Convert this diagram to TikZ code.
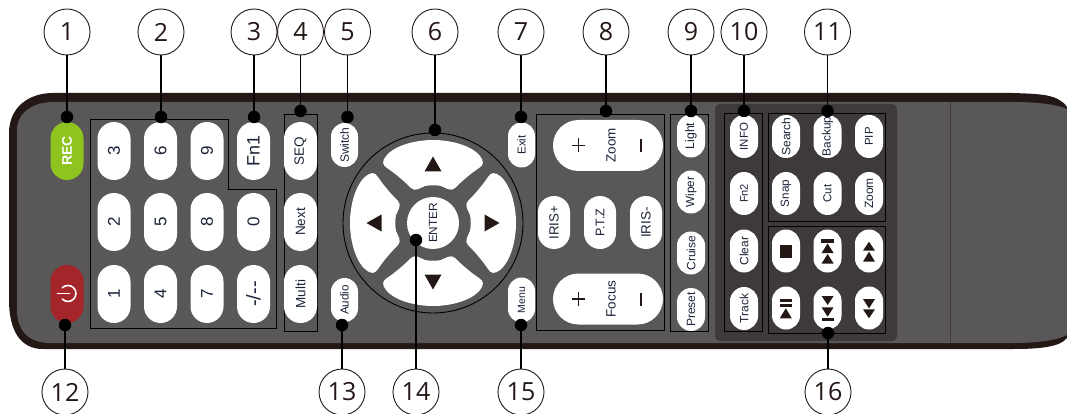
\documentclass[tikz,border=0pt]{standalone}
\usepackage{fontspec}
\setmainfont{Liberation Sans}
\newfontfamily\numfont{Open Sans}
\usetikzlibrary{shapes.misc}
\definecolor{bandc}{HTML}{231815}
\definecolor{bodyc}{HTML}{595757}
\definecolor{darkc}{HTML}{3E3A39}
\definecolor{recc}{HTML}{8FC31F}
\definecolor{powc}{HTML}{A4252A}
\definecolor{inkc}{HTML}{1C2338}
\newcommand{\fs}[1]{\fontsize{#1}{#1}\selectfont}
\tikzset{
  x=1pt,y=-1pt,
  pillbase/.style={rounded rectangle,fill=white,draw=none,inner sep=0pt,text=inkc},
  pill/.style={pillbase,rotate=90},
  keybig/.style={pill,minimum width=58pt,minimum height=33pt},
  keymid/.style={pill,minimum width=43pt,minimum height=28pt},
  keywide/.style={pillbase,minimum width=110pt,minimum height=51pt},
  keyiris/.style={pill,minimum width=53pt,minimum height=32pt},
  frameb/.style={draw=black,line width=0.9pt},
  callout/.style={circle,draw=bandc,line width=0.9pt,fill=white,minimum size=46pt,inner sep=0pt,font=\numfont\fontsize{25}{25}\selectfont,text=bandc},
  dot/.style={circle,fill=black,minimum size=12.5pt,inner sep=0pt},
  lead/.style={draw=black,line width=1.2pt},
  glyph/.style={fill=bandc,draw=none}
}
\begin{document}
\begin{tikzpicture}
\useasboundingbox (0,0) rectangle (1067,414);
% body
\fill[bandc] (53,93) -- (1013,93) .. controls (1040,94) and (1058,94) .. (1067,107) -- (1067,338) .. controls (1060,347) and (1040,349) .. (1013,349) -- (43,349) .. controls (20,349) and (9,330) .. (9,300) -- (9,133) .. controls (9,108) and (28,93) .. (53,93) -- cycle;
\fill[bodyc] (53,102) -- (1013,102) .. controls (1035,102) and (1055,104) .. (1067,109) -- (1067,335) .. controls (1055,341) and (1035,343) .. (1013,343) -- (50,343) .. controls (28,343) and (17,330) .. (17,310) -- (17,130) .. controls (17,113) and (33,102) .. (53,102) -- cycle;
\draw[darkc,line width=0.9pt] (950,102) -- (950,343);
\fill[darkc,rounded corners=5pt] (715,104) rectangle (897,341);
% frames
\draw[frameb] (90,119) -- (228,119) -- (228,189) -- (276,189) -- (276,328) -- (90,328) -- cycle;
\draw[frameb] (284,114) rectangle (317,331);
\draw[frameb] (536,114) rectangle (664,330);
\draw[frameb] (670,114) rectangle (708,331);
\draw[frameb] (724,113) rectangle (762,331);
\draw[frameb] (768,113) rectangle (885,221);
\draw[frameb] (768,226) rectangle (885,333);
% left keys
\node[keybig,fill=recc,text=white,font=\bfseries\fs{14}] (krec) at (67,151) {REC};
\node[keybig,fill=powc] (kpow) at (67,294) {};
\draw[white,line width=1.6pt,line cap=round] (57.5,293.5) -- (69.5,293.5);
\draw[white,line width=1.6pt,line cap=round] (62.3,287.8) arc[start angle=-135,end angle=135,radius=8];
% numbers
\node[keybig,font=\fs{17}] (k3) at (114,151) {3};
\node[keybig,font=\fs{17}] (k6) at (160.5,151) {6};
\node[keybig,font=\fs{17}] (k9) at (207,151) {9};
\node[keybig,font=\fs{18}] (kfn) at (253.5,151) {Fn1};
\node[keybig,font=\fs{17}] (k2) at (114,222) {2};
\node[keybig,font=\fs{17}] (k5) at (160.5,222) {5};
\node[keybig,font=\fs{17}] (k8) at (207,222) {8};
\node[keybig,font=\fs{17}] (k0) at (253.5,222) {0};
\node[keybig,font=\fs{17}] (k1) at (114,294) {1};
\node[keybig,font=\fs{17}] (k4) at (160.5,294) {4};
\node[keybig,font=\fs{17}] (k7) at (207,294) {7};
\node[keybig,font=\fs{20}] (kd) at (253.5,294) {-/{-}{-}};
% seq
\node[keybig,font=\fs{13.5}] (kseq) at (300.5,151) {SEQ};
\node[keybig,font=\fs{13.5}] (knext) at (300.5,222) {Next};
\node[keybig,font=\fs{13.5}] (kmulti) at (300.5,294) {Multi};
% small
\node[pill,minimum width=44pt,minimum height=27pt,font=\fs{12}] (ksw) at (344.5,145) {Switch};
\node[pill,minimum width=44pt,minimum height=27pt,font=\fs{11.7}] (kau) at (344.5,300) {Audio};
\node[pill,minimum width=45pt,minimum height=27pt,font=\fs{11.5}] (kex) at (521.5,145) {Exit};
\node[pill,minimum width=45pt,minimum height=27pt,font=\fs{10.5}] (kme) at (521.5,300) {Menu};
% dpad
\draw[black,line width=0.9pt] (433,223) circle[radius=90];
\foreach \a in {0,90,180,270}{
  \fill[white,rotate around={\a:(433,223)}] (433,140) .. controls (452,140) and (472,146) .. (480,156) .. controls (484,161) and (484,165) .. (479,168) .. controls (470,174) and (461,182) .. (455,188) .. controls (451,192) and (446,188) .. (441,186) .. controls (436,185) and (430,185) .. (425,186) .. controls (420,188) and (415,192) .. (411,188) .. controls (405,182) and (396,174) .. (387,168) .. controls (382,165) and (382,161) .. (386,156) .. controls (394,146) and (414,140) .. (433,140) -- cycle;
  \fill[bandc,rotate around={\a:(433,223)}] (433,156.5) -- (441.5,171.5) -- (424.5,171.5) -- cycle;
}
\node[circle,fill=white,minimum size=52pt,inner sep=0pt,text=inkc,font=\fs{11.8},rotate=90] (kent) at (433,223) {ENTER};
% group 8
\node[keywide] (kzoom) at (608,145.5) {};
\node[keywide] (kfocus) at (608,299) {};
\node[rotate=90,text=inkc,font=\fs{13.4},inner sep=0pt] (tzoom) at (611,145.5) {Zoom};
\node[rotate=90,text=inkc,font=\fs{13.5},inner sep=0pt] (tfocus) at (611,299) {Focus};
\foreach \yy in {145.5,299}{
  \draw[bandc,line width=1.3pt] (571.5,\yy) -- (585,\yy) (578.2,\yy-7) -- (578.2,\yy+7);
  \draw[bandc,line width=1.3pt] (641,\yy-6.5) -- (641,\yy+6.5);
}
\node[keyiris,font=\fs{13.3}] (kirp) at (554,222.5) {IRIS+};
\node[keyiris,font=\fs{12.5}] (kptz) at (600,222.5) {P.T.Z};
\node[keyiris,font=\fs{13.5}] (kirm) at (646,222.5) {IRIS-};
% group 9
\node[keymid,font=\fs{12.3}] (klight) at (691,136) {Light};
\node[keymid,font=\fs{11.8}] (kwiper) at (691,192) {Wiper};
\node[keymid,font=\fs{12}] (kcruise) at (691,253) {Cruise};
\node[keymid,font=\fs{12}] (kpreset) at (691,309.5) {Preset};
% group 10
\node[keymid,font=\fs{11.5}] (kinfo) at (744,136.5) {INFO};
\node[keymid,font=\fs{11}] (kfntwo) at (744,193.5) {Fn2};
\node[keymid,font=\fs{12}] (kclear) at (744,251) {Clear};
\node[keymid,font=\fs{12}] (ktrack) at (744,308.5) {Track};
% group 11
\node[keymid,font=\fs{12}] (ksearch) at (786,136.5) {Search};
\node[keymid,font=\fs{11.8}] (kbackup) at (827.5,136.5) {Backup};
\node[keymid,font=\fs{11.4}] (kpip) at (869,136.5) {PIP};
\node[keymid,font=\fs{11.7}] (ksnap) at (786,193.5) {Snap};
\node[keymid,font=\fs{11.5}] (kcut) at (827.5,193.5) {Cut};
\node[keymid,font=\fs{12}] (kzm) at (869,193.5) {Zoom};
% group 16
\node[keymid] (kstop) at (786,251) {};
\node[keymid] (kprev) at (827.5,251) {};
\node[keymid] (kup) at (869,251) {};
\node[keymid] (kpause) at (786,308) {};
\node[keymid] (knxt) at (827.5,308) {};
\node[keymid] (kdn) at (869,308) {};
\fill[glyph] (779.8,245) rectangle (791.7,258.3);
\fill[glyph] (821,238.7) rectangle (834.3,242.7);
\fill[glyph] (827.6,243.5) -- (833.6,253) -- (821.6,253) -- cycle;
\fill[glyph] (827.6,254) -- (833.6,263.5) -- (821.6,263.5) -- cycle;
\fill[glyph] (869,241.7) -- (875,250.7) -- (863,250.7) -- cycle;
\fill[glyph] (869,251.7) -- (875,261.7) -- (863,261.7) -- cycle;
\fill[glyph] (780,299) rectangle (791.7,302.3);
\fill[glyph] (780,304) rectangle (791.7,307.3);
\fill[glyph] (785.8,308.3) -- (791.8,318.3) -- (779.8,318.3) -- cycle;
\fill[glyph] (821.6,296) -- (833.6,296) -- (827.6,305) -- cycle;
\fill[glyph] (821.6,307.3) -- (833.6,307.3) -- (827.6,316.7) -- cycle;
\fill[glyph] (821.5,318.3) rectangle (833.7,320.7);
\fill[glyph] (863,299) -- (875,299) -- (869,308.3) -- cycle;
\fill[glyph] (863,309.3) -- (875,309.3) -- (869,318.3) -- cycle;
% callouts
\node[callout] (c1) at (67,32) {1};
\node[callout] (c2) at (161,32) {2};
\node[callout] (c3) at (254,32) {3};
\node[callout] (c4) at (300.5,32) {4};
\node[callout] (c5) at (347.5,32) {5};
\node[callout] (c6) at (435,32) {6};
\node[callout] (c7) at (521,32) {7};
\node[callout] (c8) at (606,32) {8};
\node[callout] (c9) at (691,32) {9};
\node[callout] (c10) at (744,32) {10};
\node[callout] (c11) at (827.5,32) {11};
\node[callout] (c12) at (65,392) {12};
\node[callout] (c13) at (342,392) {13};
\node[callout] (c14) at (416,392) {14};
\node[callout] (c15) at (521,392) {15};
\node[callout] (c16) at (828,392) {16};
\node[dot] (d1) at (67,117) {};
\node[dot] (d2) at (161,117) {};
\node[dot] (d3) at (254,117) {};
\node[dot] (d4) at (300.5,111) {};
\node[dot] (d5) at (347.5,117) {};
\node[dot] (d6) at (435,130) {};
\node[dot] (d7) at (521,117) {};
\node[dot] (d8) at (606,111) {};
\node[dot] (d9) at (691,111) {};
\node[dot] (d10) at (744,111) {};
\node[dot] (d11) at (827.5,111) {};
\node[dot] (d12) at (65,325) {};
\node[dot] (d13) at (342,325) {};
\node[dot] (d14) at (416,240) {};
\node[dot] (d15) at (521,325) {};
\node[dot] (d16) at (828,333) {};
\foreach \n in {1,...,16}{ \draw[lead] (c\n) -- (d\n); }
\end{tikzpicture}
\end{document}
